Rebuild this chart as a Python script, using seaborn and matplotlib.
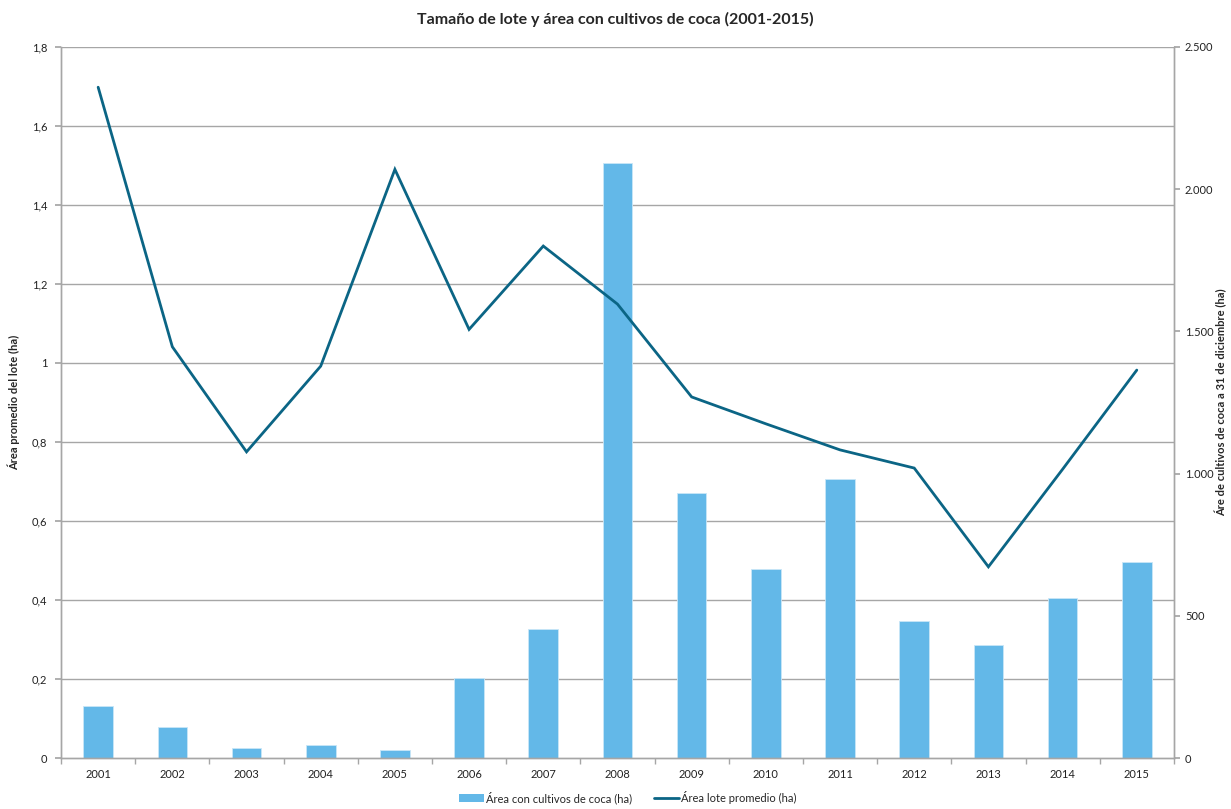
import matplotlib
matplotlib.use("Agg")
import matplotlib.pyplot as plt
import numpy as np
import pandas as pd
import seaborn as sns
from matplotlib.lines import Line2D
from matplotlib.patches import Patch
from matplotlib.ticker import FuncFormatter

years = [str(y) for y in range(2001, 2016)]
area_coca = [184, 110, 36, 45, 27, 281, 454, 2092, 932, 666, 981, 482, 397, 563, 689]
area_lote = [1.698, 1.041, 0.775, 0.992, 1.490, 1.085, 1.296, 1.149, 0.914,
             0.846, 0.780, 0.734, 0.484, 0.731, 0.982]
left_ticks = [0, 0.2, 0.4, 0.6, 0.8, 1.0, 1.2, 1.4, 1.6, 1.8]
right_ticks = [0, 500, 1000, 1500, 2000, 2500]

bar_color = '#63b8e8'
line_color = '#0b6585'
grid_color = '#a6a6a6'

sns.set_theme(style='white')
plt.rcParams['font.family'] = ['Lato', 'DejaVu Sans']

df = pd.DataFrame({'year': years, 'coca': area_coca, 'lote': area_lote})
df['pos'] = np.arange(len(df))

fig = plt.figure(figsize=(12.31, 8.09), dpi=100)
ax = fig.add_axes([0.0496, 0.063, 0.904, 0.879])
ax2 = ax.twinx()

# bars on the primary axes (right scale), so they sit under the line
sns.barplot(data=df, x='year', y='coca', ax=ax, color=bar_color, width=0.4,
            saturation=1, edgecolor='#c9e6f7', linewidth=0.6, zorder=2)
ax.set_ylim(0, right_ticks[-1])
ax.set_xlim(-0.5, len(years) - 0.5)
ax.set_yticks(right_ticks)
ax.yaxis.set_major_formatter(FuncFormatter(lambda v, p: f'{int(v):,}'.replace(',', '.')))
ax.set_xlabel('')

# horizontal gridlines follow the left scale, drawn behind the bars
scale = right_ticks[-1] / left_ticks[-1]
for t in left_ticks[1:]:
    ax.axhline(t * scale, color=grid_color, lw=1.0, zorder=1)

# line on the twin axes (left scale)
sns.lineplot(data=df, x='pos', y='lote', ax=ax2, color=line_color, lw=2.0,
             solid_joinstyle='miter')
ax2.set_ylim(0, left_ticks[-1])
ax2.set_yticks(left_ticks)
ax2.yaxis.set_major_formatter(FuncFormatter(lambda v, p: (f'{v:.1f}'.rstrip('0').rstrip('.')).replace('.', ',')))
ax2.set_xlabel('')
ax2.set_xlim(-0.5, len(years) - 0.5)

# swap sides: bar scale on the right, line scale on the left
ax.yaxis.tick_right()
ax.yaxis.set_label_position('right')
ax2.yaxis.tick_left()
ax2.yaxis.set_label_position('left')
ax.set_ylabel('Áre de cultivos de coca a 31 de diciembre (ha)', fontsize=8,
              fontweight='bold', labelpad=1)
ax2.set_ylabel('Área promedio del lote (ha)', fontsize=8, fontweight='bold', labelpad=8)

for a in (ax, ax2):
    for s in a.spines.values():
        s.set_color(grid_color)
        s.set_linewidth(1.0)
    a.spines['top'].set_visible(False)

ax.tick_params(axis='y', which='major', right=True, left=False, labelright=True,
               labelleft=False, length=4, color=grid_color, labelsize=8,
               labelcolor='#222222', pad=4)
ax2.tick_params(axis='y', which='major', left=True, right=False, labelleft=True,
                labelright=False, length=4, color=grid_color, labelsize=8,
                labelcolor='#222222', pad=6)
ax.tick_params(axis='x', which='major', length=0, labelsize=8, labelcolor='#222222', pad=8)
ax.set_xticks(np.arange(len(years) + 1) - 0.5, minor=True)
ax.tick_params(axis='x', which='minor', bottom=True, length=4, color=grid_color)
ax2.tick_params(axis='x', which='both', bottom=False, labelbottom=False)

fig.suptitle('Tamaño de lote y área con cultivos de coca (2001-2015)', y=0.985,
             fontsize=11.5, fontweight='bold')

handles = [Patch(facecolor=bar_color, edgecolor='none'),
           Line2D([0], [0], color=line_color, lw=2.0)]
fig.legend(handles, ['Área con cultivos de coca (ha)', 'Área lote promedio (ha)'],
           loc='lower center', bbox_to_anchor=(0.51, -0.006), ncol=2, frameon=False,
           fontsize=8, handlelength=2.2, handleheight=0.8, columnspacing=2.0,
           handletextpad=0.2)

fig.savefig('out.png', dpi=100)
